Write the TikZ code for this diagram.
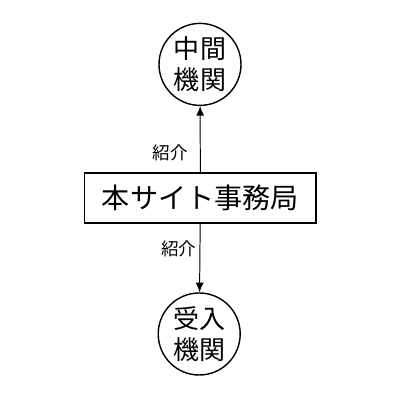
\documentclass[tikz,border=0pt]{standalone}
\usepackage{fontspec}
\setmainfont{Noto Sans CJK JP}
\usetikzlibrary{arrows.meta}

\begin{document}
\begin{tikzpicture}[
    kikan/.style={circle, draw, line width=1pt, minimum size=2.05cm, inner sep=0pt, align=center, font=\fontsize{18.5}{22}\selectfont},
    office/.style={rectangle, draw, line width=0.9pt, minimum width=5.78cm, minimum height=1.25cm, inner sep=0pt, font=\fontsize{20}{24}\selectfont},
    refer/.style={-{Latex[length=2.4mm,width=2mm]}, line width=0.7pt},
    tag/.style={font=\fontsize{12.5}{15}\selectfont, inner sep=0pt}
]
\useasboundingbox (0,0) rectangle (10,10);
% nodes
\node[office] (jimu) at (5.01,5.05) {本サイト事務局};
\node[kikan] (chukan) at (5.0,8.39) {中間\\機関};
\node[kikan] (ukeire) at (4.98,1.65) {受入\\機関};

% connectors
\draw[refer] (jimu) -- (chukan) node[tag, pos=0.3, left=0.3cm] {紹介};
\draw[refer] (jimu) -- (ukeire) node[tag, pos=0.36, left=0.08cm] {紹介};
\end{tikzpicture}
\end{document}
